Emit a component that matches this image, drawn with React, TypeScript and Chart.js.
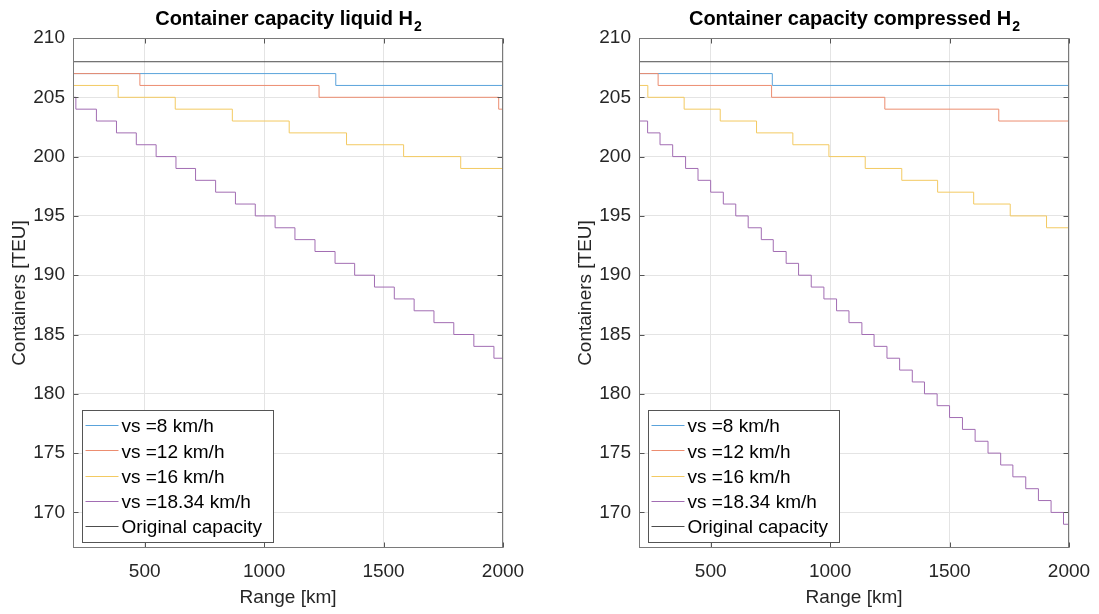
import React, { useEffect, useRef } from "react";
import { Chart, registerables } from "chart.js";

Chart.register(...registerables);

// ---------- tick labels / categories ----------
const rangeTicks = [500, 1000, 1500, 2000];
const teuTicks = [170, 175, 180, 185, 190, 195, 200, 205, 210];
const seriesLabels = ["vs =8 km/h", "vs =12 km/h", "vs =16 km/h", "vs =18.34 km/h", "Original capacity"];

// ---------- liquid H2 (range breakpoints [km] -> containers [TEU]) ----------
const liqRange8 = [200, 1300, 2000];
const liqTeu8 = [207, 206, 206];
const liqRange12 = [200, 480, 1230, 1982, 2000];
const liqTeu12 = [207, 206, 205, 204, 204];
const liqRange16 = [200, 389, 628, 867, 1105, 1345, 1584, 1823, 2000];
const liqTeu16 = [206, 205, 204, 203, 202, 201, 200, 199, 199];
const liqRange1834 = [200, 212, 298, 382, 465, 548, 631, 713, 797, 880, 963, 1046, 1129, 1213, 1297, 1379, 1462, 1545, 1628, 1711, 1794, 1878, 1962, 2000];
const liqTeu1834 = [205, 204, 203, 202, 201, 200, 199, 198, 197, 196, 195, 194, 193, 192, 191, 190, 189, 188, 187, 186, 185, 184, 183, 183];

// ---------- compressed H2 ----------
const comRange8 = [200, 758, 2000];
const comTeu8 = [207, 206, 206];
const comRange12 = [200, 280, 755, 1229, 1706, 2000];
const comTeu12 = [207, 206, 205, 204, 203, 203];
const comRange16 = [200, 237, 389, 540, 692, 844, 995, 1147, 1300, 1450, 1601, 1754, 1906, 2000];
const comTeu16 = [206, 205, 204, 203, 202, 201, 200, 199, 198, 197, 196, 195, 194, 194];
const comRange1834 = [200, 236, 288, 341, 395, 447, 500, 553, 605, 657, 712, 762, 816, 868, 921, 974, 1027, 1079, 1133, 1184, 1238, 1291, 1344, 1395, 1448, 1500, 1554, 1607, 1661, 1714, 1765, 1819, 1872, 1925, 1977, 2000];
const comTeu1834 = [203, 202, 201, 200, 199, 198, 197, 196, 195, 194, 193, 192, 191, 190, 189, 188, 187, 186, 185, 184, 183, 182, 181, 180, 179, 178, 177, 176, 175, 174, 173, 172, 171, 170, 169, 169];

// ---------- original capacity ----------
const origRange = [200, 2000];
const origTeu = [208, 208];

const seriesColors = ["#5aa3db", "#ec8d70", "#f3ca62", "#a26db3", "#4d4d4d"];
const FONT = "'Liberation Sans', Arial, Helvetica, sans-serif";

function zip(xs: number[], ys: number[]) {
  return xs.map((x, i) => ({ x, y: ys[i] }));
}

function makeDatasets(series: [number[], number[]][]) {
  return series.map(([xs, ys], i) => ({
    label: seriesLabels[i],
    data: zip(xs, ys),
    stepped: "before" as const,
    borderColor: seriesColors[i],
    backgroundColor: seriesColors[i],
    borderWidth: 1,
    pointRadius: 0,
    fill: false,
    order: series.length - i,
  }));
}

function framePlugin(titleMain: string, titleSub: string) {
  return {
    id: "frameAndLegend",
    afterDraw(chart: any) {
      const ctx: CanvasRenderingContext2D = chart.ctx;
      const a = chart.chartArea;
      const L = Math.round(a.left) + 0.5;
      const R = Math.round(a.right) - 0.5;
      const T = Math.round(a.top) + 0.5;
      const B = Math.round(a.bottom) - 0.5;
      const xs = chart.scales.x;
      const ys = chart.scales.y;
      ctx.save();
      // inward tick marks
      ctx.strokeStyle = "#555555";
      ctx.lineWidth = 1;
      ctx.beginPath();
      for (const v of rangeTicks) {
        const px = Math.round(xs.getPixelForValue(v)) + 0.5;
        ctx.moveTo(px, T);
        ctx.lineTo(px, T + 5);
        ctx.moveTo(px, B);
        ctx.lineTo(px, B - 5);
      }
      for (const v of teuTicks) {
        const py = Math.round(ys.getPixelForValue(v)) + 0.5;
        ctx.moveTo(L, py);
        ctx.lineTo(L + 5, py);
        ctx.moveTo(R, py);
        ctx.lineTo(R - 5, py);
      }
      ctx.stroke();
      // box
      ctx.strokeStyle = "#7a7a7a";
      ctx.strokeRect(L, T, R - L, B - T);

      // title with subscript
      ctx.fillStyle = "#000000";
      ctx.textBaseline = "alphabetic";
      ctx.textAlign = "left";
      ctx.font = `bold 20px ${FONT}`;
      const w1 = ctx.measureText(titleMain).width;
      ctx.font = `bold 14px ${FONT}`;
      const w2 = ctx.measureText(titleSub).width;
      const cx = (a.left + a.right) / 2;
      const sx = cx - (w1 + w2) / 2;
      ctx.font = `bold 20px ${FONT}`;
      ctx.fillText(titleMain, sx, 25);
      ctx.font = `bold 14px ${FONT}`;
      ctx.fillText(titleSub, sx + w1 + 1, 31);

      // legend box
      const bx = Math.round(a.left) + 9 + 0.5;
      const bw = 191;
      const bh = 132;
      const by = Math.round(a.bottom) - 6 - bh + 0.5;
      ctx.fillStyle = "#ffffff";
      ctx.fillRect(bx, by, bw, bh);
      ctx.strokeStyle = "#555555";
      ctx.strokeRect(bx, by, bw, bh);
      ctx.font = `19px ${FONT}`;
      ctx.textBaseline = "middle";
      seriesLabels.forEach((lab, i) => {
        const rowY = by + 16.5 + i * 25.3;
        ctx.strokeStyle = seriesColors[i];
        ctx.beginPath();
        ctx.moveTo(bx + 3, Math.round(rowY - 2) + 0.5);
        ctx.lineTo(bx + 36, Math.round(rowY - 2) + 0.5);
        ctx.stroke();
        ctx.fillStyle = "#000000";
        ctx.fillText(lab, bx + 39, rowY);
      });
      ctx.restore();
    },
  };
}

type PanelProps = {
  left: number;
  width: number;
  titleMain: string;
  titleSub: string;
  series: [number[], number[]][];
};

const TARGET_LEFT = 73;
const TARGET_RIGHT = 503;

function Panel({ left, width, titleMain, titleSub, series }: PanelProps) {
  const ref = useRef<HTMLCanvasElement | null>(null);
  useEffect(() => {
    if (!ref.current) return;
    const chart = new Chart(ref.current, {
      type: "line",
      data: { datasets: makeDatasets(series) as any },
      options: {
        animation: false,
        responsive: false,
        maintainAspectRatio: false,
        layout: { padding: { left: 0, right: width - TARGET_RIGHT, top: 38, bottom: 0 } },
        plugins: { legend: { display: false }, title: { display: false }, tooltip: { enabled: false } },
        scales: {
          x: {
            type: "linear",
            min: 200,
            max: 2000,
            afterBuildTicks: (s: any) => {
              s.ticks = rangeTicks.map((v) => ({ value: v }));
            },
            afterFit: (s: any) => {
              s.height = 66;
            },
            grid: { color: "#e4e4e4", drawTicks: false, lineWidth: 1 },
            border: { display: false },
            ticks: {
              padding: 12,
              color: "#262626",
              font: { family: FONT, size: 19 },
              maxRotation: 0,
              autoSkip: false,
              callback: (v: any) => String(v),
            },
            title: { display: true, text: "Range [km]", color: "#262626", font: { family: FONT, size: 19 }, padding: { top: 0, bottom: 5 } },
          },
          y: {
            type: "linear",
            min: 167,
            max: 210,
            afterBuildTicks: (s: any) => {
              s.ticks = teuTicks.map((v) => ({ value: v }));
            },
            afterFit: (s: any) => {
              s.width = TARGET_LEFT;
            },
            grid: { color: "#e4e4e4", drawTicks: false, lineWidth: 1 },
            border: { display: false },
            ticks: { padding: 8, color: "#262626", font: { family: FONT, size: 19 }, autoSkip: false, callback: (v: any) => String(v) },
            title: { display: true, text: "Containers [TEU]", color: "#262626", font: { family: FONT, size: 19 }, padding: { top: 8, bottom: 0 } },
          },
        },
      },
      plugins: [framePlugin(titleMain, titleSub)],
    } as any);
    // fine-tune layout so the plot area lands on the intended pixels
    for (let k = 0; k < 4; k++) {
      const a = chart.chartArea;
      const dr = a.right - TARGET_RIGHT;
      const dl = TARGET_LEFT - a.left;
      if (Math.abs(dr) < 0.5 && Math.abs(dl) < 0.5) break;
      const pad: any = (chart.options as any).layout.padding;
      pad.right = Math.max(0, pad.right + dr);
      pad.left = Math.max(0, pad.left + dl);
      chart.update();
    }
    return () => chart.destroy();
  }, []);
  return (
    <canvas
      ref={ref}
      width={width}
      height={614}
      style={{ position: "absolute", left, top: 0, width, height: 614, display: "block" }}
    />
  );
}

export default function App() {
  const liquidSeries: [number[], number[]][] = [
    [liqRange8, liqTeu8],
    [liqRange12, liqTeu12],
    [liqRange16, liqTeu16],
    [liqRange1834, liqTeu1834],
    [origRange, origTeu],
  ];
  const compressedSeries: [number[], number[]][] = [
    [comRange8, comTeu8],
    [comRange12, comTeu12],
    [comRange16, comTeu16],
    [comRange1834, comTeu1834],
    [origRange, origTeu],
  ];
  return (
    <div style={{ position: "fixed", left: 0, top: 0, width: 1099, height: 614, background: "#ffffff", overflow: "hidden" }}>
      <Panel left={0} width={540} titleMain="Container capacity liquid H" titleSub="2" series={liquidSeries} />
      <Panel left={566} width={560} titleMain="Container capacity compressed H" titleSub="2" series={compressedSeries} />
    </div>
  );
}
